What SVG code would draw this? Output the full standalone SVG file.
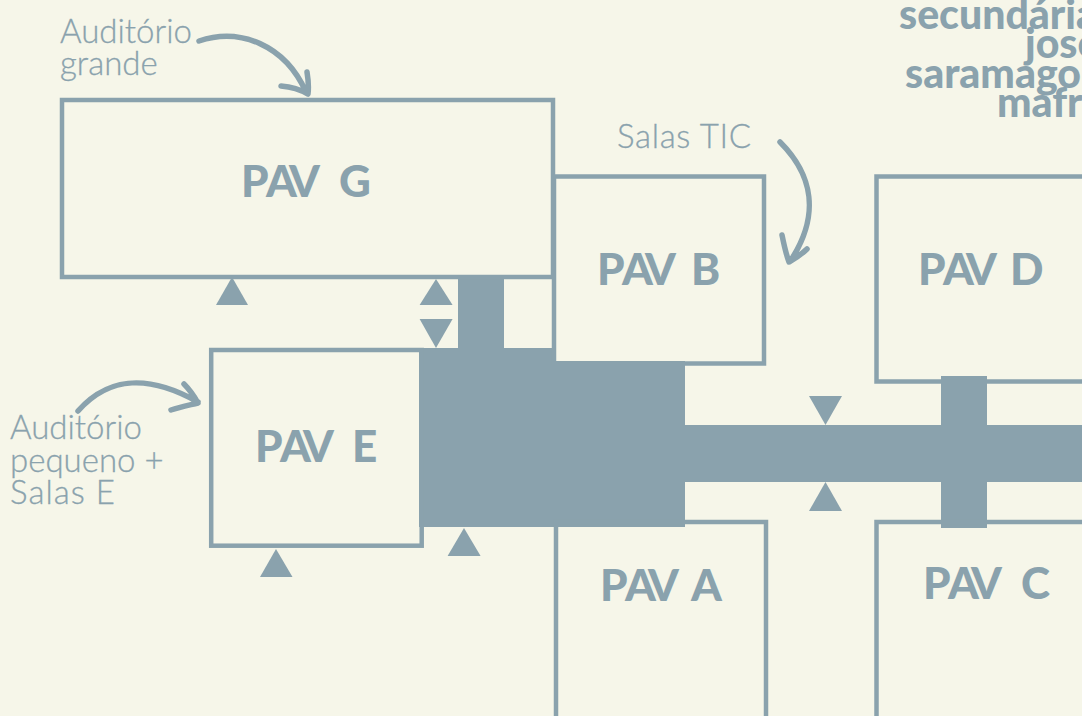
<svg xmlns="http://www.w3.org/2000/svg" width="1082" height="716" viewBox="0 0 1082 716">
<style>
.box{fill:none;stroke:#8aa2ad;stroke-width:4.5}
.solid{fill:#8aa2ad}
.pav{font-family:"Lato","Liberation Sans",sans-serif;font-weight:900;font-size:44px;fill:#8aa2ad}
.lbl{font-family:"Lato","Liberation Sans",sans-serif;font-weight:300;font-size:33px;fill:#8aa2ad;stroke:#8aa2ad;stroke-width:.3}
.ttl{font-family:"Lato","Liberation Sans",sans-serif;font-weight:900;font-size:41px;fill:#8aa2ad}
.arr{fill:none;stroke:#8aa2ad;stroke-width:5.500;stroke-linecap:round;stroke-linejoin:round}
</style>
<rect width="1082" height="716" fill="#f6f6e9"/>
<g id="connectors">
<path class="solid" d="M458 275H504V348H556V361H685V425H941V376H987V425H1082V482H987V528H941V482H685V527H419V348H458Z"/>
<path class="solid" d="M232 277L248 305H216Z"/>
<path class="solid" d="M436 279L452.600 305H419.600Z"/>
<path class="solid" d="M436 348L452.600 319H419.600Z"/>
<path class="solid" d="M464 528L480.600 556H447.600Z"/>
<path class="solid" d="M276 549L292.500 577H260Z"/>
<path class="solid" d="M825.500 425L842 396H809Z"/>
<path class="solid" d="M825.500 482L842 511H809Z"/>
<path class="arr" d="M199 41C240 27 285 45 306 92M281 86C292 87 301 90 308 94C309 86 308 78 307 72"/>
<path class="arr" d="M780 142C813 175 820 215 791 260M782 235C784 245 786 254 789 262C796 258 802 254 807 249"/>
<path class="arr" d="M78 411C110 375 150 375 198 402M171 410C180 407 190 405 198 403C194 396 189 389 184 384"/>
</g>
<g id="pav-g"><rect class="box" x="62" y="100" width="491" height="177"/><text class="pav" x="241 266 289 320 339" y="197">PAV G</text></g>
<g id="pav-b"><rect class="box" x="554" y="176.500" width="210" height="187"/><text class="pav" x="597 622 645 676 691" y="285">PAV B</text></g>
<g id="pav-d"><rect class="box" x="876.500" y="176.500" width="230" height="205"/><text class="pav" x="918 943 966 997 1010" y="285">PAV D</text></g>
<g id="pav-e"><rect class="box" x="211.200" y="350" width="210.500" height="195.700"/><text class="pav" x="255 280 303 334 352" y="462">PAV E</text></g>
<g id="pav-a"><rect class="box" x="556" y="522" width="210" height="230"/><text class="pav" x="600 625 648 679 691" y="601">PAV A</text></g>
<g id="pav-c"><rect class="box" x="876.500" y="522" width="230" height="230"/><text class="pav" x="923 948 971 1002 1021" y="599">PAV C</text></g>
<g id="label-grande"><text class="lbl" x="60" y="43">Auditório</text><text class="lbl" x="60" y="75">grande</text></g>
<g id="label-tic"><text class="lbl" x="617" y="148" textLength="134">Salas TIC</text></g>
<g id="label-pequeno"><text class="lbl" x="10" y="439">Auditório</text><text class="lbl" x="10" y="472">pequeno +</text><text class="lbl" x="10" y="504" textLength="105">Salas E</text></g>
<g id="title"><text class="ttl" x="899" y="29">secundária</text><text class="ttl" x="1025" y="58">josé</text><text class="ttl" x="905" y="88">saramago</text><text class="ttl" x="997" y="117">mafra</text></g>
</svg>
